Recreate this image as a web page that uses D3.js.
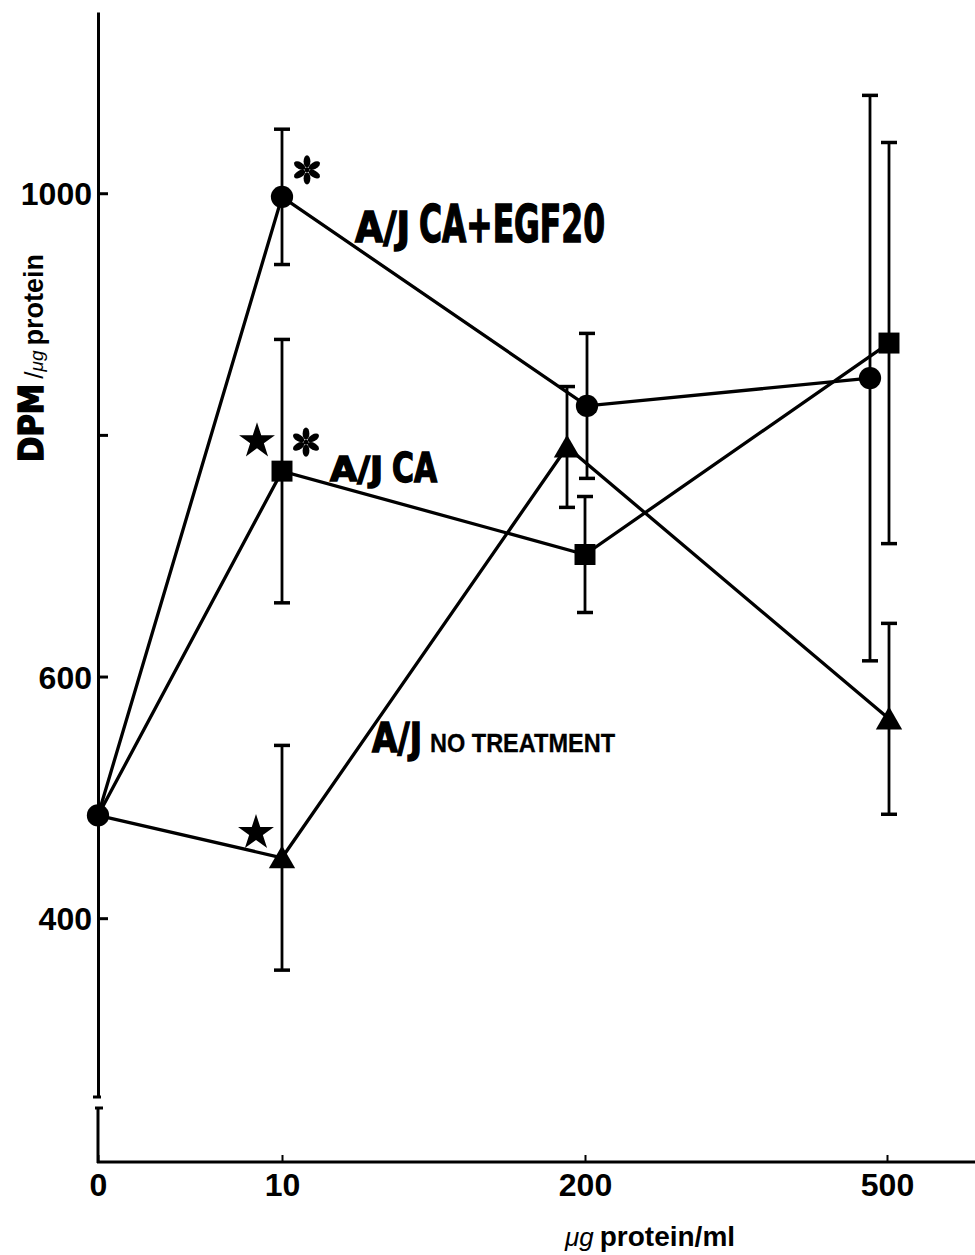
<!DOCTYPE html>
<html>
<head>
<meta charset="utf-8">
<script src="https://cdn.jsdelivr.net/npm/d3@7"></script>
<style>
  body { margin: 0; background: #fff; }
  text { fill: #000; }
</style>
</head>
<body>
<svg width="975" height="1255"></svg>
<script>
// values (DPM / ug protein, mean and error bar half-length)
var doses = [0, 10, 200, 500];
var doseLabels = ["0", "10", "200", "500"];
var egfMean = [485, 997, 824, 847];
var egfErr = [0, 56, 60, 234];
var caMean = [485, 770, 701, 876];
var caErr = [0, 109, 48, 166];
var noneMean = [485, 450, 790, 565];
var noneErr = [0, 93, 50, 79];
var yTicks = [400, 600, 800, 1000];

// small horizontal nudges the original uses to keep overlapping points apart
var nudge = {
  egf: [0, 0, 2, -17],
  ca: [0, 0, 0, 2],
  none: [0, 0, -18, 2]
};

var svg = d3.select("svg");

var x = d3.scaleLinear()
    .domain(doses)
    .range([98, 282, 585, 887]);

var y = d3.scaleLinear()
    .domain([252, 1150])
    .range([1097, 12]);

var series = [
  {key: "egf", mean: egfMean, err: egfErr, shape: "circle"},
  {key: "ca", mean: caMean, err: caErr, shape: "square"},
  {key: "none", mean: noneMean, err: noneErr, shape: "triangle"}
];

series.forEach(function(s) {
  s.points = doses.map(function(d, i) {
    return {dose: d, v: s.mean[i], e: s.err[i], px: x(d) + nudge[s.key][i], i: i};
  });
});

// y axis (upper part, above the break)
var yAxis = svg.append("g")
    .attr("transform", "translate(98,0)")
    .call(d3.axisLeft(y)
      .tickValues(yTicks)
      .tickSizeInner(-10)
      .tickSizeOuter(0)
      .tickPadding(6)
      .tickFormat(function(d) { return d === 800 ? "" : d; }));

yAxis.select(".domain").attr("stroke-width", 3);
yAxis.selectAll(".tick line").attr("stroke-width", 3);
yAxis.selectAll(".tick text")
    .attr("font-family", "'Liberation Sans', Arial, sans-serif")
    .attr("font-weight", "bold")
    .attr("font-size", 32)
    .attr("dy", "0.36em");

// axis break
svg.append("line").attr("x1", 93).attr("x2", 101).attr("y1", 1097).attr("y2", 1097)
    .attr("stroke", "#000").attr("stroke-width", 3);
svg.append("line").attr("x1", 95).attr("x2", 103).attr("y1", 1108).attr("y2", 1108)
    .attr("stroke", "#000").attr("stroke-width", 3);
svg.append("line").attr("x1", 98).attr("x2", 98).attr("y1", 1107).attr("y2", 1163)
    .attr("stroke", "#000").attr("stroke-width", 3);

// x axis
svg.append("line").attr("x1", 97).attr("x2", 975).attr("y1", 1162).attr("y2", 1162)
    .attr("stroke", "#000").attr("stroke-width", 3);

var xAxis = svg.append("g")
    .attr("transform", "translate(0,1162)")
    .call(d3.axisBottom(x)
      .tickValues(doses)
      .tickSizeInner(-7)
      .tickSizeOuter(0)
      .tickPadding(11)
      .tickFormat(function(d, i) { return doseLabels[i]; }));

xAxis.select(".domain").remove();
xAxis.selectAll(".tick line").attr("stroke-width", 2);
xAxis.selectAll(".tick text")
    .attr("font-family", "'Liberation Sans', Arial, sans-serif")
    .attr("font-weight", "bold")
    .attr("font-size", 32);

// lines
var line = d3.line()
    .x(function(d) { return d.px; })
    .y(function(d) { return y(d.v); });

svg.append("g").selectAll("path")
    .data(series)
    .enter().append("path")
    .attr("d", function(s) { return line(s.points); })
    .attr("fill", "none")
    .attr("stroke", "#000")
    .attr("stroke-width", 3.3);

// error bars
var bars = [];
series.forEach(function(s) {
  s.points.forEach(function(p) { if (p.e > 0) bars.push(p); });
});

var eb = svg.append("g").selectAll("g")
    .data(bars)
    .enter().append("g");

eb.append("line")
    .attr("x1", function(d) { return d.px; })
    .attr("x2", function(d) { return d.px; })
    .attr("y1", function(d) { return y(d.v + d.e); })
    .attr("y2", function(d) { return y(d.v - d.e); })
    .attr("stroke", "#000")
    .attr("stroke-width", 2.8);

[1, -1].forEach(function(sg) {
  eb.append("line")
      .attr("x1", function(d) { return d.px - 8; })
      .attr("x2", function(d) { return d.px + 8; })
      .attr("y1", function(d) { return y(d.v + sg * d.e); })
      .attr("y2", function(d) { return y(d.v + sg * d.e); })
      .attr("stroke", "#000")
      .attr("stroke-width", 3.5);
});

// markers
var symbols = {
  circle: d3.symbol().type(d3.symbolCircle).size(390),
  square: d3.symbol().type(d3.symbolSquare).size(440),
  triangle: d3.symbol().type(d3.symbolTriangle).size(300)
};

series.forEach(function(s) {
  svg.append("g").selectAll("path")
      .data(s.points.filter(function(p) { return s.shape === "circle" || p.i > 0; }))
      .enter().append("path")
      .attr("transform", function(d) {
        var dy = s.shape === "triangle" ? 3 : 0;
        return "translate(" + d.px + "," + (y(d.v) + dy) + ")";
      })
      .attr("d", symbols[s.shape]())
      .attr("fill", "#000");
});

// significance marks
var star = d3.symbol().type(d3.symbolStar).size(400);
svg.append("g").selectAll("path")
    .data([{d: 10, v: 770, dx: -25, dy: -30}, {d: 10, v: 450, dx: -26, dy: -25}])
    .enter().append("path")
    .attr("transform", function(p) { return "translate(" + (x(p.d) + p.dx) + "," + (y(p.v) + p.dy) + ")"; })
    .attr("d", star())
    .attr("fill", "#000");

function asterisk(cx, cy) {
  var g = svg.append("g").attr("transform", "translate(" + cx + "," + cy + ")");
  d3.range(6).forEach(function(k) {
    g.append("ellipse")
        .attr("cx", 0).attr("cy", -8.5)
        .attr("rx", 3.4).attr("ry", 6.2)
        .attr("transform", "rotate(" + (k * 60) + ")")
        .attr("fill", "#000");
  });
  g.append("circle").attr("r", 2.5).attr("fill", "#000");
}
asterisk(x(10) + 25, y(997) - 27);
asterisk(x(10) + 24, y(770) - 29);

// series labels
var cond = "'Liberation Sans Narrow', 'DejaVu Sans Condensed', 'Liberation Sans', sans-serif";
function label(txt, lx, ly, size, len, fam, stroke) {
  svg.append("text")
      .attr("x", lx).attr("y", ly)
      .attr("font-family", fam)
      .attr("font-weight", "bold")
      .attr("font-size", size)
      .attr("textLength", len)
      .attr("lengthAdjust", "spacingAndGlyphs")
      .attr("stroke", stroke ? "#000" : "none")
      .attr("stroke-width", stroke || 0)
      .text(txt);
}
label("A/J", 355, 242, 42, 55, cond, 1.4);
label("CA+EGF20", 419, 242, 52, 186, cond, 1.4);
label("A/J", 330, 481, 34, 53, cond, 1.4);
label("CA", 392, 482, 40, 45, cond, 1.4);
label("A/J", 372, 752, 41, 50, cond, 1.4);
label("NO TREATMENT", 430, 752, 26, 185, "'Liberation Sans', Arial, sans-serif", 0.3);

// axis titles
var xt = svg.append("text")
    .attr("x", 565).attr("y", 1246)
    .attr("font-family", "'Liberation Sans', Arial, sans-serif")
    .attr("font-weight", "bold")
    .attr("font-size", 28);
xt.append("tspan").attr("font-style", "italic").attr("font-weight", "normal").attr("font-size", 26).text("\u03bcg");
xt.append("tspan").attr("dx", 6).text("protein/ml");

var yt = svg.append("text")
    .attr("transform", "translate(43,462) rotate(-90)")
    .attr("font-family", "'Liberation Sans', Arial, sans-serif")
    .attr("font-weight", "bold");
yt.append("tspan").attr("font-family", cond).attr("font-size", 34)
    .attr("stroke", "#000").attr("stroke-width", 1.4).text("DPM");
yt.append("tspan").attr("dx", 5).attr("font-size", 26).attr("font-weight", "normal").text("/");
yt.append("tspan").attr("font-size", 19).attr("font-style", "italic").attr("font-weight", "normal").text("\u03bcg");
yt.append("tspan").attr("dx", 5).attr("font-size", 27).text("protein");
</script>
</body>
</html>
